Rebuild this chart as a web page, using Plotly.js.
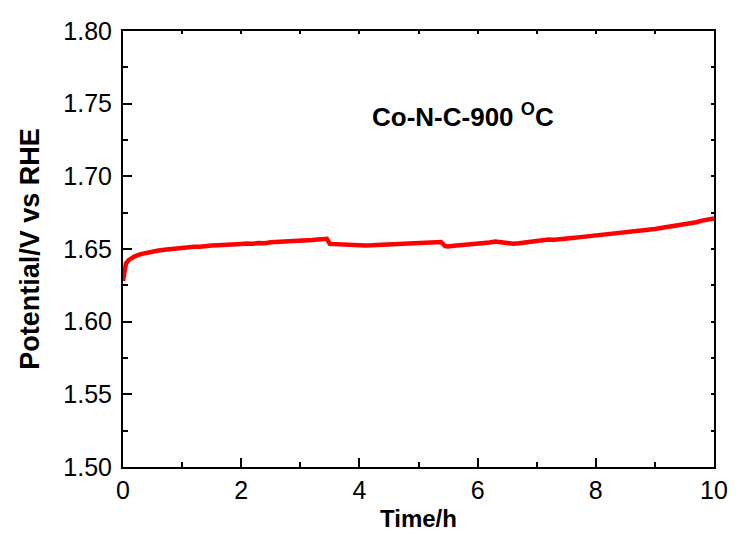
<!DOCTYPE html>
<html>
<head>
<meta charset="utf-8">
<script src="https://cdn.plot.ly/plotly-3.0.1.min.js"></script>
<style>html,body{margin:0;padding:0;background:#fff}#chart{width:737px;height:534px}</style>
</head>
<body>
<div id="chart"></div>
<script>
const timeH = [0,0.02,0.05,0.1,0.15,0.2,0.3,0.4,0.5,0.6,0.7,0.8,0.9,1.0,1.1,1.2,1.3,1.4,1.5,1.6,1.7,1.8,1.9,2.0,2.1,2.2,2.3,2.4,2.5,2.6,2.7,2.8,2.9,3.0,3.1,3.2,3.3,3.4,3.45,3.5,3.6,3.7,3.8,3.9,4.0,4.1,4.2,4.3,4.4,4.5,4.6,4.7,4.8,4.9,5.0,5.1,5.2,5.3,5.38,5.45,5.5,5.6,5.7,5.8,5.9,6.0,6.1,6.2,6.3,6.4,6.5,6.6,6.7,6.8,6.9,7.0,7.1,7.2,7.3,7.4,7.5,7.6,7.7,7.8,7.9,8.0,8.1,8.2,8.3,8.4,8.5,8.6,8.7,8.8,8.9,9.0,9.1,9.2,9.3,9.4,9.5,9.6,9.7,9.8,9.9,10.0];
const potential = [1.628,1.635,1.640,1.6425,1.644,1.645,1.6465,1.6475,1.6485,1.649,1.6495,1.650,1.6502,1.6508,1.6510,1.6515,1.6516,1.6522,1.6524,1.6526,1.6530,1.6528,1.6534,1.6535,1.6538,1.6536,1.6542,1.6540,1.6546,1.6548,1.6545,1.6553,1.6556,1.6554,1.6560,1.6562,1.6566,1.6568,1.6570,1.6535,1.6532,1.6530,1.6528,1.6527,1.6526,1.6524,1.6525,1.6527,1.6524,1.6530,1.6528,1.6534,1.6532,1.6536,1.6535,1.6540,1.6538,1.6544,1.6548,1.6520,1.6518,1.6522,1.6525,1.6528,1.6530,1.6532,1.6536,1.6545,1.6552,1.6546,1.6540,1.6536,1.6540,1.6546,1.6550,1.6556,1.6560,1.6566,1.6564,1.6570,1.6574,1.6576,1.6580,1.6584,1.6588,1.6592,1.6598,1.6600,1.6606,1.6610,1.6614,1.6618,1.6622,1.6628,1.6632,1.6638,1.6644,1.6650,1.6656,1.6662,1.6668,1.6676,1.6684,1.6695,1.6700,1.6710];
const sampleLabel = 'Co-N-C-900 <sup>O</sup>C';
const xTitle = 'Time/h';
const yTitle = 'Potential/V vs RHE';

const FONT = 'Liberation Sans, Arial, sans-serif';

const traces = [
  {x: timeH, y: potential, type: 'scatter', mode: 'lines',
   line: {color: '#ff0000', width: 4.5}, hoverinfo: 'skip'},
  {x: timeH, y: potential, type: 'scatter', mode: 'lines', xaxis: 'x2', yaxis: 'y2',
   line: {color: 'rgba(0,0,0,0)', width: 0}, hoverinfo: 'skip'}
];

const layout = {
  width: 737, height: 534,
  margin: {l: 123, r: 23, t: 31, b: 67},
  paper_bgcolor: '#fff', plot_bgcolor: '#fff',
  showlegend: false,
  font: {family: FONT, color: '#000'},
  xaxis: {
    range: [0, 10], dtick: 2, tick0: 0,
    ticks: 'inside', ticklen: 9, tickwidth: 2, tickcolor: '#000',
    minor: {dtick: 1, ticks: 'inside', ticklen: 5, tickwidth: 2, tickcolor: '#000'},
    showline: true, linewidth: 2, linecolor: '#000', mirror: true,
    showgrid: false, zeroline: false,
    tickfont: {size: 25, family: FONT},
    title: {text: '<b>' + xTitle + '</b>', font: {size: 24, family: FONT}, standoff: 7}
  },
  yaxis: {
    range: [1.5, 1.8], dtick: 0.05, tick0: 1.5, tickformat: '.2f',
    ticks: 'inside', ticklen: 9, tickwidth: 2, tickcolor: '#000',
    minor: {dtick: 0.025, ticks: 'inside', ticklen: 5, tickwidth: 2, tickcolor: '#000'},
    showline: true, linewidth: 2, linecolor: '#000', mirror: true,
    showgrid: false, zeroline: false,
    tickfont: {size: 25, family: FONT},
    ticklabelstandoff: 4,
    title: {text: '<b>' + yTitle + '</b>', font: {size: 27, family: FONT}, standoff: 16}
  },
  xaxis2: {
    overlaying: 'x', side: 'top', range: [0, 10], dtick: 1, tick0: 0,
    ticks: 'inside', ticklen: 3, tickwidth: 2, tickcolor: '#000',
    showticklabels: false, showgrid: false, zeroline: false, showline: false
  },
  yaxis2: {
    overlaying: 'y', side: 'right', range: [1.5, 1.8], dtick: 0.025, tick0: 1.5,
    ticks: 'inside', ticklen: 3, tickwidth: 2, tickcolor: '#000',
    showticklabels: false, showgrid: false, zeroline: false, showline: false
  },
  annotations: [{
    x: 5.75, y: 1.742, xref: 'x', yref: 'y',
    text: '<b>' + sampleLabel + '</b>', showarrow: false,
    font: {size: 26, family: FONT, color: '#000'}
  }]
};

Plotly.newPlot('chart', traces, layout, {staticPlot: true, displayModeBar: false});
</script>
</body>
</html>
